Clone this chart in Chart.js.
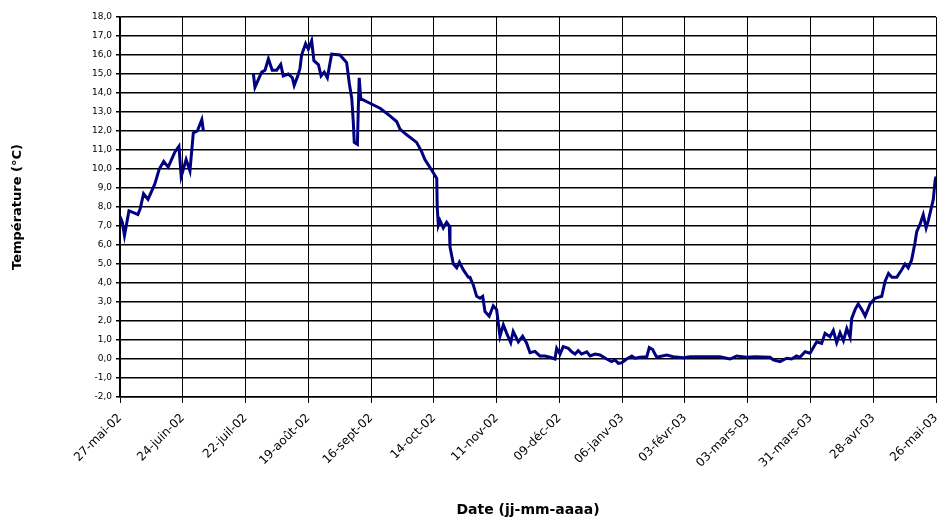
<!DOCTYPE html>
<html>
<head>
<meta charset="utf-8">
<script src="https://cdn.jsdelivr.net/npm/chart.js@4"></script>
<style>
  html, body { margin: 0; padding: 0; background: #fff; }
  #wrap { width: 937px; height: 519px; }
</style>
</head>
<body>
<div id="wrap"><canvas id="canvas-1"></canvas></div>
<script>
// days since 27 May 2002, null = gap in the record
var days = [
    0, 1, 2, 4, 6, 8, 9, 10.5, 12.5, 15.5, 17.5, 19.5, 21.5, 24.5, 26.3, 27.3, 29.5, 31.2, 32.7, 34.5, 36.5, 37.2,
    48,
    59.5, 60.2, 61.7, 63.2, 64.7, 66.2, 67.9, 69.9, 71.7, 72.8, 75.1, 76.9, 77.7, 79.3, 80.3, 81, 82.8, 84, 85.5,
    86.5, 88.5, 89.7, 91.1, 92.5, 94.4, 98.1, 99.6, 101.1, 102.3, 103.4, 104.1, 104.5, 105.9, 106.3, 106.7, 107.4,
    110.8, 116, 120.4, 123.4, 124.9, 127.9, 132.3, 134.6, 136, 139, 141.3, 141.5, 142, 142.7, 144.2, 145.7, 146.9,
    147.2, 148.7, 150.2, 151.4, 153.1, 155.4, 156.1, 157.6, 159.1, 160.6, 161.8, 162.8, 164.7, 166.5, 168, 169.5,
    171, 172.5, 174.3, 175.4, 177.7, 179.6, 181.4, 182.9, 185.1, 187.3, 189.6, 191.8, 194, 194.8, 196.3, 197.7,
    200, 201.5, 203, 204.4, 205.9, 208.2, 209.7, 211.9, 214.1, 217.1, 219.3, 220.8, 222.3, 223.8, 226, 228.3,
    229.7, 232, 235, 236.1, 237.6, 239.4, 243.9, 246.8, 251.3, 254.3, 261.7, 267.6, 272.1, 275.1, 279.5, 283.3,
    290, 291.4, 294.4, 297.4, 299.6, 301.8, 303.3, 305.6, 307.8, 310.8, 313, 314.5, 316.7, 318.2, 319.7, 321.2,
    322.7, 324.2, 325.7, 326.4, 327.9, 329.3, 330.9, 332.4, 334.6, 336.8, 339.8, 341.3, 342.8, 344.3, 346.5,
    348.7, 350.2, 351.6, 353.1, 354.6, 355.4, 356.9, 358.3, 359.6, 360.6, 362.8, 363.6, 364
];

var temps = [
    7.5, 7.2, 6.5, 7.8, 7.7, 7.6, 7.9, 8.7, 8.4, 9.2, 10.0, 10.4, 10.1, 10.9, 11.2, 9.6, 10.5, 9.9, 11.9, 12.0, 12.6, 12.0,
    null,
    15.0, 14.3, 14.7, 15.1, 15.2, 15.8, 15.2, 15.2, 15.5, 14.9, 15.0, 14.8, 14.4, 14.9, 15.3, 16.0, 16.6, 16.3, 16.75,
    15.7, 15.5, 14.9, 15.1, 14.8, 16.05, 16.0, 15.8, 15.6, 14.5, 13.7, 12.4, 11.4, 11.3, 13.2, 14.8, 13.7,
    13.5, 13.2, 12.8, 12.5, 12.1, 11.8, 11.4, 10.9, 10.5, 9.95, 9.5, 8.0, 7.05, 7.3, 6.9, 7.2, 7.0,
    5.9, 5.0, 4.8, 5.1, 4.7, 4.3, 4.3, 3.9, 3.3, 3.2, 3.3, 2.5, 2.25, 2.8, 2.6, 1.2,
    1.8, 1.35, 0.86, 1.45, 0.9, 1.2, 0.83, 0.33, 0.4, 0.16, 0.16, 0.09, 0.0, 0.56, 0.26, 0.65,
    0.56, 0.38, 0.26, 0.44, 0.26, 0.38, 0.16, 0.26, 0.21, 0.0, -0.14, -0.05, -0.23, -0.2, 0.0, 0.16,
    0.04, 0.09, 0.12, 0.6, 0.5, 0.09, 0.21, 0.12, 0.07, 0.12, 0.12, 0.12, 0.0, 0.16, 0.09, 0.12,
    0.09, -0.05, -0.14, 0.04, 0.0, 0.16, 0.09, 0.38, 0.3, 0.91, 0.82, 1.35, 1.17, 1.5, 0.86, 1.38,
    0.96, 1.6, 1.14, 2.14, 2.6, 2.9, 2.6, 2.26, 2.9, 3.2, 3.3, 4.1, 4.5, 4.3, 4.3,
    4.7, 5.0, 4.8, 5.2, 6.1, 6.7, 7.1, 7.6, 6.9, 7.3, 8.4, 9.4, 9.6
];

var tickLabels = [
    '27-mai-02', '24-juin-02', '22-juil-02', '19-août-02', '16-sept-02', '14-oct-02', '11-nov-02',
    '09-déc-02', '06-janv-03', '03-févr-03', '03-mars-03', '31-mars-03', '28-avr-03', '26-mai-03'
];

var points = days.map(function (d, i) {
    return { x: d, y: temps[i] };
});

var ctx = document.getElementById('canvas-1');
var chart = new Chart(ctx, {
    type: 'line',
    data: {
        datasets: [{
            data: points,
            borderColor: '#000080',
            borderWidth: 3,
            pointRadius: 0,
            tension: 0,
            spanGaps: false
        }]
    },
    options: {
        responsive: true,
        maintainAspectRatio: false,
        animation: false,
        layout: { padding: { top: 17, right: 1, left: 10, bottom: 0 } },
        plugins: { legend: { display: false }, tooltip: { enabled: false } },
        scales: {
            x: {
                type: 'linear',
                min: 0,
                max: 364,
                afterBuildTicks: function (scale) {
                    scale.ticks = tickLabels.map(function (t, i) { return { value: i * 28 }; });
                },
                ticks: {
                    autoSkip: false,
                    maxRotation: 45,
                    minRotation: 45,
                    color: '#000',
                    font: { family: 'DejaVu Sans', size: 12 },
                    padding: 8,
                    callback: function (v) { return tickLabels[Math.round(v / 28)]; }
                },
                grid: { color: '#000', lineWidth: 1, tickLength: 6, drawTicks: true },
                border: { color: '#000', width: 1.5 },
                title: {
                    display: true,
                    text: 'Date (jj-mm-aaaa)',
                    color: '#000',
                    font: { family: 'DejaVu Sans', size: 14, weight: 'bold' },
                    padding: { top: 4, bottom: 0 }
                },
                afterFit: function (scale) {
                    scale.height = 122;
                    scale.paddingRight = 0;
                    scale.paddingLeft = 0;
                }
            },
            y: {
                min: -2,
                max: 18,
                ticks: {
                    stepSize: 1,
                    color: '#000',
                    font: { family: 'DejaVu Sans', size: 9 },
                    padding: 4,
                    callback: function (v) { return v.toFixed(1).replace('.', ','); }
                },
                grid: { color: '#000', lineWidth: 1.5, tickLength: 4 },
                border: { color: '#000', width: 1.5 },
                title: {
                    display: true,
                    text: 'Température (°C)',
                    color: '#000',
                    font: { family: 'DejaVu Sans', size: 13, weight: 'bold' },
                    padding: { top: 0, bottom: 40 }
                },
                afterFit: function (scale) { scale.width = 110; }
            }
        }
    }
});
</script>
</body>
</html>
